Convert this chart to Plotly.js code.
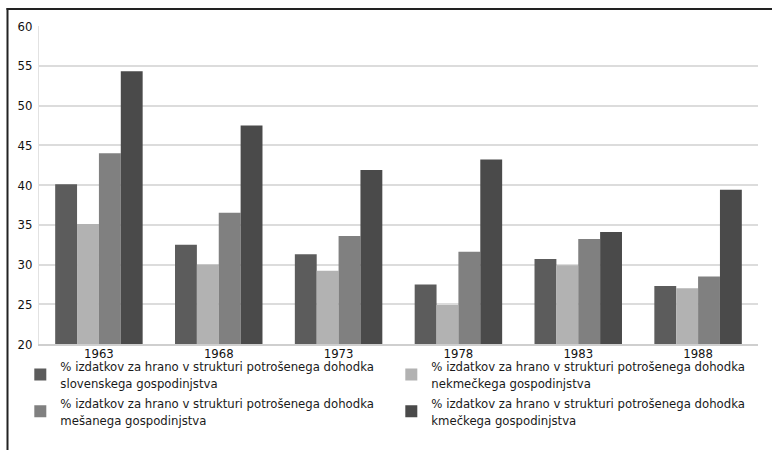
<!DOCTYPE html>
<html>
<head>
<meta charset="utf-8">
<script src="https://cdn.plot.ly/plotly-3.0.1.min.js"></script>
<style>html,body{margin:0;padding:0;background:#fff;}#chart{width:772px;height:450px;}</style>
</head>
<body>
<div id="chart"></div>
<script>
const years = ['1963', '1968', '1973', '1978', '1983', '1988'];
const seriesNames = [
  '% izdatkov za hrano v strukturi potrošenega dohodka<br>slovenskega gospodinjstva',
  '% izdatkov za hrano v strukturi potrošenega dohodka<br>nekmečkega gospodinjstva',
  '% izdatkov za hrano v strukturi potrošenega dohodka<br>mešanega gospodinjstva',
  '% izdatkov za hrano v strukturi potrošenega dohodka<br>kmečkega gospodinjstva'
];
const slovenskega = [40.1, 32.5, 31.3, 27.5, 30.7, 27.3];
const nekmeckega  = [35.1, 30.0, 29.2, 24.9, 29.9, 27.0];
const mesanega    = [44.0, 36.5, 33.6, 31.6, 33.2, 28.5];
const kmeckega    = [54.3, 47.5, 41.9, 43.2, 34.1, 39.4];
const colors = ['#5c5c5c', '#b2b2b2', '#808080', '#4a4a4a'];
const values = [slovenskega, nekmeckega, mesanega, kmeckega];

const FONT = '"Liberation Sans Narrow", "DejaVu Sans Condensed", "DejaVu Sans", sans-serif';

const traces = values.map((v, i) => ({
  type: 'bar',
  x: years,
  y: v,
  name: seriesNames[i],
  marker: {color: colors[i], line: {width: 0}},
  hoverinfo: 'y'
}));

const layout = {
  width: 772,
  height: 450,
  margin: {l: 39, r: 14, t: 26, b: 106, autoexpand: false},
  paper_bgcolor: '#ffffff',
  plot_bgcolor: '#ffffff',
  font: {family: FONT, size: 13, color: '#1a1a1a', stretch: 'condensed'},
  barmode: 'group',
  bargap: 0.27,
  bargroupgap: 0,
  showlegend: true,
  legend: {
    orientation: 'h',
    x: -0.026,
    xanchor: 'left',
    y: -0.022,
    yanchor: 'top',
    entrywidth: 326,
    entrywidthmode: 'pixels',
    traceorder: 'normal',
    font: {family: FONT, size: 13, color: '#1a1a1a', stretch: 'condensed'},
    bgcolor: 'rgba(0,0,0,0)',
    tracegroupgap: 0
  },
  xaxis: {
    type: 'category',
    showgrid: false,
    showline: true,
    linecolor: '#cfcfcf',
    linewidth: 2,
    ticks: '',
    ticklabelstandoff: -4,
    tickfont: {family: FONT, size: 13, color: '#111', stretch: 'condensed'},
    automargin: false
  },
  yaxis: {
    range: [20, 60],
    dtick: 5,
    tick0: 20,
    showgrid: true,
    gridcolor: '#dcdcdc',
    gridwidth: 2,
    showline: true,
    linecolor: '#e2e2e2',
    linewidth: 1,
    zeroline: false,
    ticks: '',
    ticklabelstandoff: 3,
    tickfont: {family: FONT, size: 13, color: '#111', stretch: 'condensed'},
    automargin: false
  },
  shapes: [
    {type: 'line', xref: 'paper', yref: 'paper', x0: (7.5 - 39) / 719, x1: (7.5 - 39) / 719, y0: 1 + (26 - 8) / 318, y1: -(452 - 344) / 318, line: {color: '#222', width: 2}},
    {type: 'line', xref: 'paper', yref: 'paper', x0: (6.5 - 39) / 719, x1: (775 - 39) / 719, y0: 1 + (26 - 9) / 318, y1: 1 + (26 - 9) / 318, line: {color: '#222', width: 2}}
  ]
};

Plotly.newPlot('chart', traces, layout, {displayModeBar: false, staticPlot: true});
</script>
</body>
</html>
